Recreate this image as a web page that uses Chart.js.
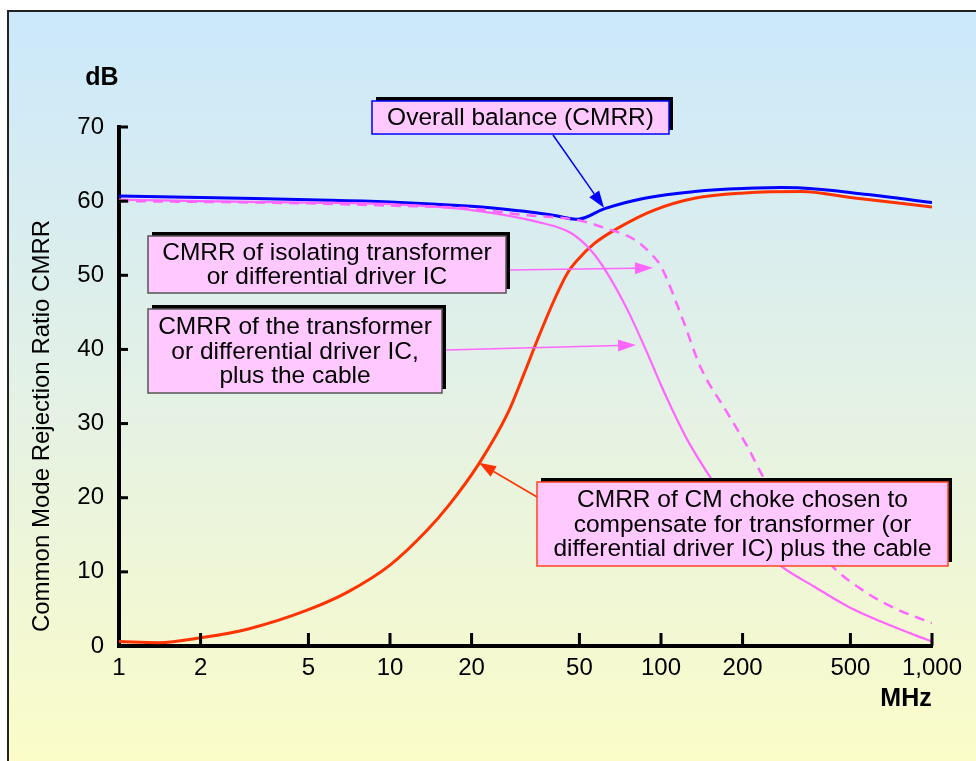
<!DOCTYPE html>
<html>
<head>
<meta charset="utf-8">
<script src="https://cdn.jsdelivr.net/npm/chart.js@4.4.0/dist/chart.umd.min.js"></script>
<style>
  html, body { margin: 0; padding: 0; background: #fff; }
  #wrap { width: 976px; height: 761px; position: relative; }
</style>
</head>
<body>
<div id="wrap"><canvas id="cmrr"></canvas></div>
<script>
// tick values / labels
const xTickValues = [1, 2, 5, 10, 20, 50, 100, 200, 500, 1000];
const xTickLabels = ['1', '2', '5', '10', '20', '50', '100', '200', '500', '1,000'];
const yTickValues = [0, 10, 20, 30, 40, 50, 60, 70];

// Overall balance (CMRR) - blue
const overallFreq = [1, 2, 5, 10, 20, 30, 40, 50, 62, 87, 133, 200, 320, 580, 1000];
const overallDb   = [60.7, 60.5, 60.2, 59.9, 59.3, 58.7, 58.1, 57.6, 59.0, 60.4, 61.3, 61.7, 61.8, 60.9, 59.8];

// CMRR of isolating transformer or differential driver IC - dashed pink
const xfmrFreq = [1, 2, 5, 10, 20, 30, 50, 63, 80, 94, 100, 119, 140, 176, 209, 240, 300, 427, 578, 748, 1000];
const xfmrDb   = [60.0, 59.9, 59.7, 59.4, 59.0, 58.2, 57.4, 56.3, 54.8, 52.5, 51.2, 44.5, 37.6, 31.4, 26.8, 22.6, 17.7, 10.8, 7.1, 4.9, 3.1];

// CMRR of transformer / driver IC plus the cable - solid pink
const cableFreq = [1, 2, 5, 10, 20, 35, 46.5, 55, 63.3, 75.3, 89, 100, 111, 126, 153, 200, 240, 277, 368, 491, 648, 860, 1000];
const cableDb   = [60.2, 60.0, 59.8, 59.6, 58.8, 57.2, 55.7, 53.4, 50.3, 45.3, 39.5, 35.2, 31.6, 27.6, 22.6, 16.6, 13.0, 10.8, 8.0, 5.3, 3.3, 1.5, 0.6];

// CMRR of CM choke - red
const chokeFreq = [1, 1.4, 2, 3, 5, 7, 10, 13.7, 16.5, 21.3, 27.2, 31.3, 35, 40.4, 45.2, 49.3, 56.8, 71.2, 94.4, 133, 203, 330, 500, 1000];
const chokeDb   = [0.6, 0.45, 1.1, 2.3, 4.9, 7.3, 10.9, 15.6, 19.0, 24.6, 31.4, 36.8, 41.3, 46.7, 50.3, 52.1, 54.3, 56.6, 58.8, 60.4, 61.1, 61.3, 60.5, 59.2];

const FONT = '"Liberation Sans", Arial, sans-serif';

const pts = (fs, vs) => fs.map((f, i) => ({x: f, y: vs[i]}));

function drawArrow(ctx, x1, y1, x2, y2, color, len, half) {
  const a = Math.atan2(y2 - y1, x2 - x1);
  const bx = x2 - Math.cos(a) * len, by = y2 - Math.sin(a) * len;
  ctx.strokeStyle = color;
  ctx.fillStyle = color;
  ctx.lineWidth = 1.5;
  ctx.beginPath();
  ctx.moveTo(x1, y1);
  ctx.lineTo(bx, by);
  ctx.stroke();
  ctx.beginPath();
  ctx.moveTo(x2, y2);
  ctx.lineTo(bx + Math.sin(a) * half, by - Math.cos(a) * half);
  ctx.lineTo(bx - Math.sin(a) * half, by + Math.cos(a) * half);
  ctx.closePath();
  ctx.fill();
}

function drawBox(ctx, x, y, w, h, border, lines) {
  ctx.fillStyle = '#000';
  ctx.fillRect(x + 4, y - 4, w, h);
  ctx.fillStyle = '#ffc8ff';
  ctx.fillRect(x, y, w, h);
  ctx.strokeStyle = border;
  ctx.lineWidth = 1.5;
  ctx.strokeRect(x, y, w, h);
  ctx.fillStyle = '#000';
  ctx.font = '24.5px ' + FONT;
  ctx.textAlign = 'center';
  ctx.textBaseline = 'middle';
  const lh = 24.3;
  const y0 = y + h / 2 - (lines.length - 1) * lh / 2;
  lines.forEach((t, i) => ctx.fillText(t, x + w / 2, y0 + i * lh + 1));
}

const decor = {
  id: 'decor',
  beforeDraw(chart) {
    const ctx = chart.ctx;
    ctx.save();
    ctx.fillStyle = '#fff';
    ctx.fillRect(0, 0, chart.width, chart.height);
    const g = ctx.createLinearGradient(0, 11, 0, 761);
    g.addColorStop(0, '#cbe8fb');
    g.addColorStop(0.5, '#e3f1e6');
    g.addColorStop(1, '#fbfcc8');
    ctx.fillStyle = g;
    ctx.fillRect(7, 11, chart.width - 7, chart.height - 11);
    ctx.strokeStyle = '#222';
    ctx.lineWidth = 2;
    ctx.beginPath();
    ctx.moveTo(8, chart.height);
    ctx.lineTo(8, 11);
    ctx.lineTo(chart.width, 11);
    ctx.stroke();
    ctx.restore();
  },
  afterDatasetsDraw(chart) {
    const ctx = chart.ctx;
    const xs = chart.scales.x, ys = chart.scales.y;
    const area = chart.chartArea;
    ctx.save();
    // inward tick marks
    ctx.strokeStyle = '#000';
    ctx.lineWidth = 3;
    yTickValues.forEach(v => {
      const py = ys.getPixelForValue(v);
      ctx.beginPath();
      ctx.moveTo(area.left, py);
      ctx.lineTo(area.left + 9, py);
      ctx.stroke();
    });
    xTickValues.slice(1).forEach(v => {
      const px = xs.getPixelForValue(v);
      ctx.beginPath();
      ctx.moveTo(px, area.bottom);
      ctx.lineTo(px, area.bottom - 13);
      ctx.stroke();
    });

    // arrows
    drawArrow(ctx, 553, 135, xs.getPixelForValue(61.6), ys.getPixelForValue(59.1), '#0000ff', 17, 6);
    drawArrow(ctx, 508, 270, xs.getPixelForValue(93.4), ys.getPixelForValue(51.0), '#ff66ff', 18, 6);
    drawArrow(ctx, 446, 350, xs.getPixelForValue(80.9), ys.getPixelForValue(40.6), '#ff66ff', 18, 6);
    drawArrow(ctx, 537, 497, xs.getPixelForValue(21.3), ys.getPixelForValue(24.7), '#ff3300', 17, 6);

    // annotation boxes
    drawBox(ctx, 372, 101, 297, 33, '#0000ff', ['Overall balance (CMRR)']);
    drawBox(ctx, 148, 236, 358, 57, '#555', ['CMRR of isolating transformer', 'or differential driver IC']);
    drawBox(ctx, 148, 309, 294, 84, '#555', ['CMRR of the transformer', 'or differential driver IC,', 'plus the cable']);
    drawBox(ctx, 537, 482, 411, 84, '#ff4422', ['CMRR of CM choke chosen to', 'compensate for transformer (or', 'differential driver IC) plus the cable']);

    // axis captions
    ctx.fillStyle = '#000';
    ctx.textAlign = 'center';
    ctx.textBaseline = 'middle';
    ctx.font = 'bold 25px ' + FONT;
    ctx.fillText('dB', 102, 78);
    ctx.fillText('MHz', 906, 699);
    ctx.font = '24px ' + FONT;
    ctx.translate(42, 426);
    ctx.rotate(-Math.PI / 2);
    ctx.fillText('Common Mode Rejection Ratio CMRR', 0, 0);
    ctx.restore();
  }
};

new Chart(document.getElementById('cmrr'), {
  type: 'line',
  data: {
    datasets: [
      {
        label: 'CMRR of isolating transformer or differential driver IC',
        data: pts(xfmrFreq, xfmrDb),
        borderColor: '#ff66ff',
        borderWidth: 2.5,
        borderDash: [10, 7],
        cubicInterpolationMode: 'monotone'
      },
      {
        label: 'CMRR of the transformer or differential driver IC, plus the cable',
        data: pts(cableFreq, cableDb),
        borderColor: '#ff66ff',
        borderWidth: 2.2,
        cubicInterpolationMode: 'monotone'
      },
      {
        label: 'CMRR of CM choke',
        data: pts(chokeFreq, chokeDb),
        borderColor: '#ff3300',
        borderWidth: 3,
        cubicInterpolationMode: 'monotone'
      },
      {
        label: 'Overall balance (CMRR)',
        data: pts(overallFreq, overallDb),
        borderColor: '#0000ff',
        borderWidth: 3,
        tension: 0.4
      }
    ]
  },
  options: {
    responsive: true,
    maintainAspectRatio: false,
    animation: false,
    devicePixelRatio: 1,
    layout: { padding: { left: 0, right: 44, top: 127, bottom: 0 } },
    elements: { point: { radius: 0 } },
    plugins: {
      legend: { display: false },
      tooltip: { enabled: false }
    },
    scales: {
      x: {
        type: 'logarithmic',
        min: 1,
        max: 1000,
        afterBuildTicks: (scale) => { scale.ticks = xTickValues.map(v => ({value: v})); },
        afterFit: (scale) => { scale.height = 115; },
        ticks: {
          autoSkip: false,
          maxRotation: 0,
          padding: 8,
          color: '#000',
          font: { family: FONT, size: 24 },
          callback: (v, i) => xTickLabels[i]
        },
        grid: { display: false, drawTicks: false },
        border: { display: true, color: '#000', width: 4 }
      },
      y: {
        min: 0,
        max: 70,
        afterBuildTicks: (scale) => { scale.ticks = yTickValues.map(v => ({value: v})); },
        afterFit: (scale) => { scale.width = 119; },
        ticks: {
          padding: 15,
          color: '#000',
          font: { family: FONT, size: 24 }
        },
        grid: { display: false, drawTicks: false },
        border: { display: true, color: '#000', width: 4 }
      }
    }
  },
  plugins: [decor]
});
</script>
</body>
</html>
